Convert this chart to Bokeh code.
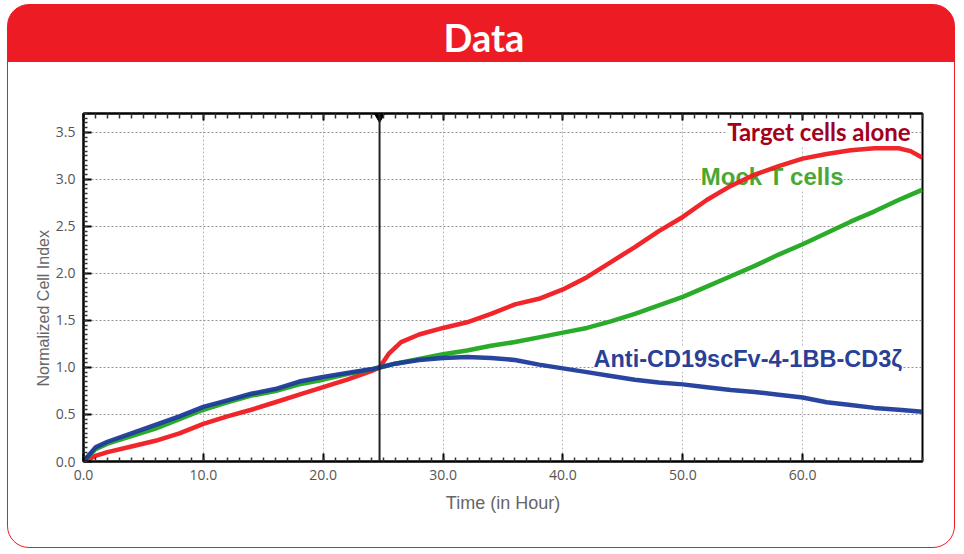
from bokeh.plotting import figure
from bokeh.models import (Range1d, LinearAxis, FixedTicker, Span, Label, Title, PrintfTickFormatter)
from bokeh.embed import file_html
from bokeh.resources import INLINE

# ---- data ----
hours_target = [0, 1, 2, 4, 6, 8, 10, 12, 14, 16, 18, 20, 22, 24, 24.7, 25.5, 26.5, 28, 30, 32, 34,
                36, 38, 40, 42, 44, 46, 48, 50, 52, 54, 56, 58, 60, 62, 64, 66, 68, 69, 70]
ci_target = [0.00, 0.06, 0.10, 0.16, 0.22, 0.30, 0.40, 0.48, 0.55, 0.63, 0.71, 0.79, 0.87, 0.96, 1.00,
             1.15, 1.27, 1.35, 1.42, 1.48, 1.57, 1.67, 1.73, 1.83, 1.96, 2.12, 2.28, 2.45, 2.60, 2.78,
             2.93, 3.05, 3.14, 3.22, 3.27, 3.31, 3.33, 3.33, 3.30, 3.23]

hours_mock = [0, 1, 2, 4, 6, 8, 10, 12, 14, 16, 18, 20, 22, 24, 24.7, 26, 28, 30, 32, 34, 36, 38, 40,
              42, 44, 46, 48, 50, 52, 54, 56, 58, 60, 62, 64, 66, 68, 70]
ci_mock = [0.00, 0.13, 0.19, 0.27, 0.35, 0.45, 0.55, 0.63, 0.70, 0.75, 0.82, 0.87, 0.93, 0.98, 1.00,
           1.04, 1.09, 1.14, 1.18, 1.23, 1.27, 1.32, 1.37, 1.42, 1.49, 1.57, 1.66, 1.75, 1.86, 1.97,
           2.08, 2.20, 2.31, 2.43, 2.55, 2.66, 2.78, 2.89]

hours_car = [0, 1, 2, 4, 6, 8, 10, 12, 14, 16, 18, 20, 22, 24, 24.7, 26, 28, 30, 32, 34, 36, 38, 40,
             42, 44, 46, 48, 50, 52, 54, 56, 58, 60, 62, 64, 66, 68, 70]
ci_car = [0.00, 0.15, 0.21, 0.30, 0.39, 0.48, 0.58, 0.65, 0.72, 0.77, 0.85, 0.90, 0.94, 0.98, 1.00,
          1.04, 1.08, 1.10, 1.11, 1.10, 1.08, 1.03, 0.99, 0.95, 0.91, 0.87, 0.84, 0.82, 0.79, 0.76,
          0.74, 0.71, 0.68, 0.63, 0.60, 0.57, 0.55, 0.53]

addition_time = 24.7
x_ticks = [0, 10, 20, 30, 40, 50, 60]
x_minor = list(range(0, 71))
y_ticks = [0.0, 0.5, 1.0, 1.5, 2.0, 2.5, 3.0, 3.5]
y_minor = [i / 20 for i in range(0, 75)]

series_names = ["Target cells alone", "Mock T cells", "Anti-CD19scFv-4-1BB-CD3ζ"]
line_colors = ["#f01a1f", "#1fa81f", "#1f3b9b"]
label_colors = ["#a3001b", "#4aa832", "#2a3f96"]

# ---- layout ----
W, H = 948, 544
RED = "#ed1c24"

p = figure(width=W, height=H, output_backend="svg", toolbar_location=None,
           x_range=Range1d(0, 70), y_range=Range1d(0, 3.7),
           min_border_left=75, min_border_right=34, min_border_top=108, min_border_bottom=88,
           background_fill_color="white", border_fill_color=None,
           outline_line_color="black", outline_line_width=2)
p.styles = {"border": "1.5px solid " + RED, "border-radius": "22px", "overflow": "hidden",
            "margin-left": "7px", "margin-top": "4px",
            "background": "linear-gradient(180deg, %s 0px, %s 57px, #ffffff 57px)" % (RED, RED)}

font = "Open Sans"

# header title
p.title = Title(text="Data", text_color="white", text_font="Lato", text_font_style="bold",
                text_font_size="38px", align="left", offset=360, standoff=2,
                vertical_align="bottom")
p.title_location = "above"

# axes
xa = p.xaxis[0]
xa.ticker = FixedTicker(ticks=x_ticks, minor_ticks=x_minor)
xa.formatter = PrintfTickFormatter(format="%.1f")
ya = p.yaxis[0]
ya.ticker = FixedTicker(ticks=y_ticks, minor_ticks=y_minor)
ya.formatter = PrintfTickFormatter(format="%.1f")
for ax in (xa, ya):
    ax.axis_line_color = "black"
    ax.axis_line_width = 2
    ax.major_tick_in = 8
    ax.major_tick_out = 0
    ax.minor_tick_in = 4
    ax.minor_tick_out = 0
    ax.major_tick_line_color = "black"
    ax.major_tick_line_width = 2
    ax.minor_tick_line_color = "#333333"
    ax.minor_tick_line_width = 1.5
    ax.major_label_text_font = font
    ax.major_label_text_font_size = "14px"
    ax.major_label_text_color = "#555555"
    ax.major_label_standoff = 8
xa.axis_label = "Time (in Hour)"
xa.axis_label_text_font = "Liberation Sans"
xa.axis_label_text_font_size = "18px"
xa.axis_label_text_font_style = "normal"
xa.axis_label_text_color = "#666666"
xa.axis_label_standoff = 10

top = LinearAxis(ticker=FixedTicker(ticks=x_ticks, minor_ticks=x_minor),
                 major_label_overrides={t: "" for t in x_ticks},
                 axis_line_color="black", axis_line_width=2,
                 major_tick_in=7, major_tick_out=0, major_tick_line_width=2,
                 minor_tick_in=5, minor_tick_out=0, minor_tick_line_color="#333333",
                 minor_tick_line_width=1.5, major_label_standoff=0)
p.add_layout(top, "above")
# blank spacer between the top axis and the header title
p.add_layout(Title(text=" ", text_font_size="10px", standoff=40), "above")

p.add_layout(Title(text="Normalized Cell Index", text_color="#666666", text_font="Liberation Sans",
                   text_font_size="16px", text_font_style="normal", align="left",
                   offset=75, standoff=2), "left")

# grid
for g in (p.xgrid[0], p.ygrid[0]):
    g.grid_line_color = "#8a8a8a"
    g.grid_line_dash = "2 2"
    g.grid_line_width = 1
p.xgrid[0].grid_line_alpha = 0.6
p.ygrid[0].grid_line_alpha = 0.9

# series labels (white background hides grid, lines drawn over)
label_pos = [(53.7, 3.355, "24px", "Lato"),
             (51.5, 2.885, "24px", "Liberation Sans"),
             (42.55, 0.955, "23.5px", "Liberation Sans")]
for name, col, (lx, ly, fs, ff) in zip(series_names, label_colors, label_pos):
    p.add_layout(Label(x=lx, y=ly, text=name, text_color=col, text_font=ff,
                       text_font_size=fs, text_font_style="bold",
                       background_fill_color="white", background_fill_alpha=0.9,
                       level="underlay"))

# curves
for xs, ys, col in zip([hours_target, hours_mock, hours_car], [ci_target, ci_mock, ci_car], line_colors):
    p.line(xs, ys, line_color=col, line_width=4.5, line_alpha=0.95)

# compound addition marker
p.add_layout(Span(location=addition_time, dimension="height", line_color="#222222", line_width=2))
p.scatter([addition_time], [3.665], marker="inverted_triangle", size=10, color="black")

open("out.html", "w").write(file_html(p, INLINE))
